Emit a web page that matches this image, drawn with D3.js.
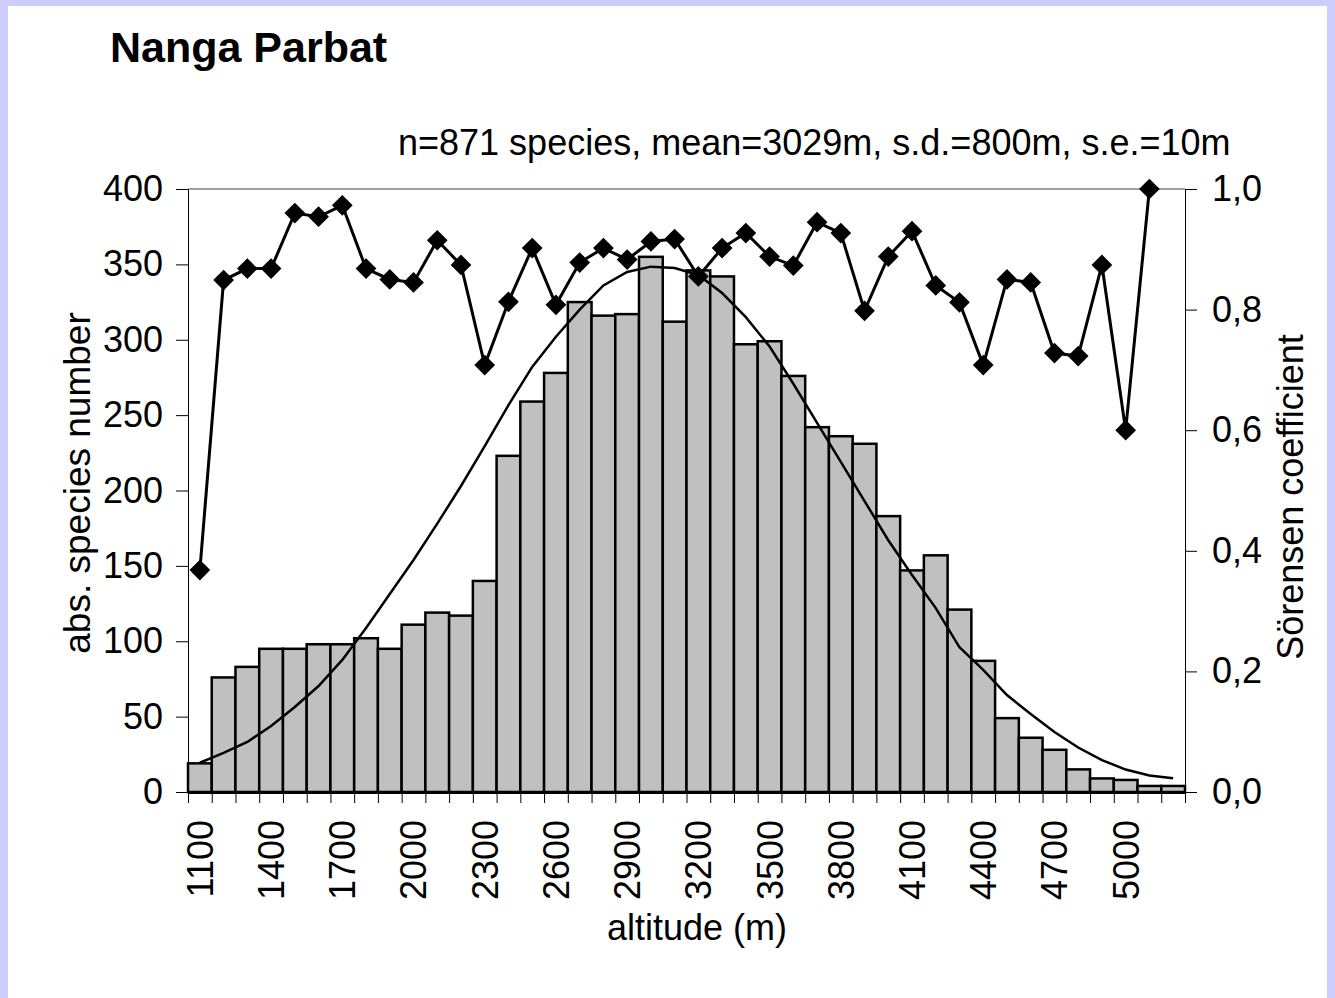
<!DOCTYPE html>
<html>
<head>
<meta charset="utf-8">
<script src="https://cdn.jsdelivr.net/npm/d3@7"></script>
<style>
  body { margin: 0; background: #ccccff; }
  svg { display: block; }
  text { font-family: "Liberation Sans", Arial, sans-serif; }
</style>
</head>
<body>
<div id="chart"></div>
<script>
// altitude classes (m)
const altitudes = [1100, 1200, 1300, 1400, 1500, 1600, 1700, 1800, 1900, 2000,
  2100, 2200, 2300, 2400, 2500, 2600, 2700, 2800, 2900, 3000,
  3100, 3200, 3300, 3400, 3500, 3600, 3700, 3800, 3900, 4000,
  4100, 4200, 4300, 4400, 4500, 4600, 4700, 4800, 4900, 5000,
  5100, 5200];

// absolute species number per class (bars)
const speciesCount = [19, 76, 83, 95, 95, 98, 98, 102, 95, 111,
  119, 117, 140, 223, 259, 278, 325, 316, 317, 355,
  312, 346, 342, 297, 299, 276, 242, 236, 231, 183,
  147, 157, 121, 87, 49, 36, 28, 15, 9, 8,
  4, 4];

// fitted normal curve
const fittedCurve = [19.4, 25.9, 33.2, 43.8, 56.4, 70.3, 87.6, 108.8, 131.3, 153.9,
  178, 203, 229.5, 256.7, 282, 302, 320, 336, 345, 348.5,
  347.6, 343, 331, 315, 295.5, 270.8, 244.8, 219, 193, 167,
  144, 122, 96, 81, 64.3, 51.7, 39.8, 29.5, 21.2, 14.9,
  10.9, 9.1];

// Sörensen coefficient between neighbouring classes (none for the last one)
const sorensen = [0.368, 0.849, 0.868, 0.868, 0.960, 0.954, 0.973, 0.868, 0.850, 0.845,
  0.915, 0.874, 0.708, 0.813, 0.902, 0.808, 0.878, 0.902, 0.883, 0.913,
  0.917, 0.855, 0.902, 0.927, 0.888, 0.873, 0.945, 0.927, 0.798, 0.888,
  0.930, 0.840, 0.812, 0.708, 0.850, 0.845, 0.728, 0.723, 0.874, 0.600,
  1.0, null];

const xTickLabels = [1100, 1400, 1700, 2000, 2300, 2600, 2900, 3200, 3500, 3800, 4100, 4400, 4700, 5000];
const leftTicks = [0, 50, 100, 150, 200, 250, 300, 350, 400];
const rightTicks = [0, 0.2, 0.4, 0.6, 0.8, 1.0];

const W = 1335, H = 998;
const margin = { top: 189, left: 188 };
const width = 997;
const height = 603;

const root = d3.select("#chart")
  .append("svg")
    .attr("width", W)
    .attr("height", H);

// lavender frame with white page
root.append("rect").attr("width", W).attr("height", H).attr("fill", "#ccccff");
root.append("rect").attr("x", 8).attr("y", 6).attr("width", W - 16).attr("height", H - 6).attr("fill", "#fff");

root.append("text")
    .attr("x", 110).attr("y", 62)
    .attr("font-size", 43).attr("font-weight", "bold")
    .text("Nanga Parbat");

root.append("text")
    .attr("x", 398).attr("y", 155)
    .attr("font-size", 36)
    .text("n=871 species, mean=3029m, s.d.=800m, s.e.=10m");

const svg = root.append("g")
    .attr("transform", `translate(${margin.left},${margin.top})`);

// scales
const x = d3.scaleBand().domain(altitudes).range([0, width]).padding(0);
const xEdge = d3.scaleLinear().domain([1050, 5250]).range([0, width]);
const y = d3.scaleLinear().domain([0, 400]).range([height, 0]);
const y2 = d3.scaleLinear().domain([0, 1]).range([height, 0]);
const cx = a => x(a) + x.bandwidth() / 2;

// plot area top border
svg.append("line")
    .attr("x1", 0).attr("x2", width).attr("y1", 0).attr("y2", 0)
    .attr("stroke", "#808080").attr("stroke-width", 1.5);

// bars
svg.append("g")
  .selectAll("rect")
  .data(altitudes)
  .join("rect")
    .attr("x", d => x(d))
    .attr("y", (d, i) => y(speciesCount[i]))
    .attr("width", x.bandwidth())
    .attr("height", (d, i) => height - y(speciesCount[i]))
    .attr("fill", "#c0c0c0")
    .attr("stroke", "#000")
    .attr("stroke-width", 2.5);

// fitted curve
const curveLine = d3.line()
    .x((d, i) => cx(altitudes[i]))
    .y(d => y(d));

svg.append("path")
    .datum(fittedCurve)
    .attr("fill", "none")
    .attr("stroke", "#000")
    .attr("stroke-width", 2.5)
    .attr("d", curveLine);

// left axis
const gLeft = svg.append("g")
    .call(d3.axisLeft(y).tickValues(leftTicks).tickSize(12).tickSizeOuter(0).tickPadding(13));
gLeft.selectAll("text").attr("font-size", 36).attr("font-family", null);

// right axis
const gRight = svg.append("g")
    .attr("transform", `translate(${width},0)`)
    .call(d3.axisRight(y2).tickValues(rightTicks).tickSize(12).tickSizeOuter(0).tickPadding(15)
      .tickFormat(d => d3.format(".1f")(d).replace(".", ",")));
gRight.selectAll("text").attr("font-size", 36).attr("font-family", null);

// bottom tick marks at class boundaries
const edges = altitudes.map(a => a - 50).concat([5250]);
const gBottom = svg.append("g")
    .attr("transform", `translate(0,${height})`)
    .call(d3.axisBottom(xEdge).tickValues(edges).tickSize(11).tickSizeOuter(0).tickFormat(""));
gBottom.select(".domain").attr("stroke-width", 3);

// bottom labels
const gLabels = svg.append("g")
    .attr("transform", `translate(0,${height})`)
    .call(d3.axisBottom(x).tickValues(xTickLabels).tickSize(0));
gLabels.select(".domain").remove();
gLabels.selectAll("text")
    .attr("font-size", 36)
    .attr("font-family", null)
    .attr("transform", "rotate(-90)")
    .attr("x", -28)
    .attr("y", 0)
    .attr("dy", "0.36em")
    .attr("text-anchor", "end");

// Sörensen line with diamonds
const sData = altitudes.map((a, i) => ({ a, v: sorensen[i] })).filter(d => d.v !== null);
const sLine = d3.line()
    .x(d => cx(d.a))
    .y(d => y2(d.v));

svg.append("path")
    .datum(sData)
    .attr("fill", "none")
    .attr("stroke", "#000")
    .attr("stroke-width", 3)
    .attr("d", sLine);

svg.append("g")
  .selectAll("path")
  .data(sData)
  .join("path")
    .attr("transform", d => `translate(${cx(d.a)},${y2(d.v)}) rotate(45)`)
    .attr("d", d3.symbol(d3.symbolSquare, 215))
    .attr("fill", "#000");

// axis titles
root.append("text")
    .attr("transform", "translate(90,483) rotate(-90)")
    .attr("text-anchor", "middle")
    .attr("font-size", 37)
    .text("abs. species number");

root.append("text")
    .attr("transform", "translate(1303,497) rotate(-90)")
    .attr("text-anchor", "middle")
    .attr("font-size", 36)
    .text("Sörensen coefficient");

root.append("text")
    .attr("x", 697).attr("y", 940)
    .attr("text-anchor", "middle")
    .attr("font-size", 36)
    .text("altitude (m)");
</script>
</body>
</html>
